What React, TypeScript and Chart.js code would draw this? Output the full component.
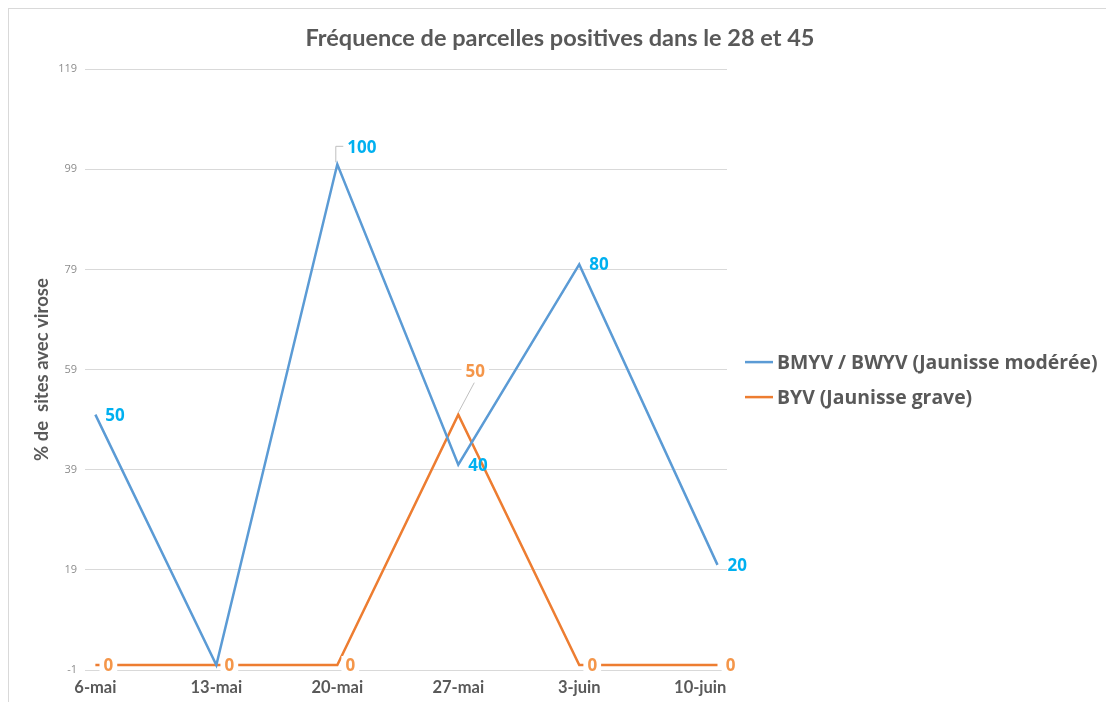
import React, { useEffect, useRef } from "react";
import { Chart, registerables } from "chart.js";

Chart.register(...registerables);

const titleText = "Fréquence de parcelles positives dans le 28 et 45";
const yTitle = "% de  sites avec virose";
const seriesNames = ["BMYV / BWYV (Jaunisse modérée)", "BYV (Jaunisse grave)"];
// sample days counted from 6-mai
const sampleDays = [0, 7, 14, 21, 28, 36];
const bmyvValues = [50, 0, 100, 40, 80, 20];
const byvValues = [0, 0, 0, 50, 0, 0];
const xTickDays = [0, 7, 14, 21, 28, 35];
const xTickLabels = ["6-mai", "13-mai", "20-mai", "27-mai", "3-juin", "10-juin"];
const yMin = -1;
const yMax = 119;
const yStep = 20;

const BLUE = "#5B9BD5";
const ORANGE = "#ED7D31";
const BLUE_LABEL = "#00B0F0";
const ORANGE_LABEL = "#F4964A";
const GRAY = "#595959";

const labelPlugin = {
  id: "pointLabels",
  afterDatasetsDraw(chart: any) {
    const ctx = chart.ctx;
    ctx.save();
    ctx.font = 'bold 17px "Open Sans"';
    ctx.textBaseline = "middle";
    chart.data.datasets.forEach((ds: any, di: number) => {
      const meta = chart.getDatasetMeta(di);
      const vals = ds.data.map((d: any) => d.y);
      const maxV = Math.max(...vals);
      meta.data.forEach((pt: any, i: number) => {
        const v = vals[i];
        const text = String(v);
        const x = pt.x;
        const y = pt.y;
        const w = ctx.measureText(text).width;
        if (di === 0) {
          ctx.fillStyle = BLUE_LABEL;
          ctx.textAlign = "left";
          if (v === maxV) {
            ctx.strokeStyle = "#BFBFBF";
            ctx.lineWidth = 1;
            ctx.beginPath();
            ctx.moveTo(x - 1.5, y - 2);
            ctx.lineTo(x - 1.5, y - 18);
            ctx.lineTo(x + 6, y - 18);
            ctx.stroke();
            ctx.fillText(text, x + 10, y - 16);
          } else {
            ctx.fillText(text, x + 10, y + 1);
          }
        } else {
          ctx.textAlign = "center";
          if (v > 0) {
            ctx.strokeStyle = "#BFBFBF";
            ctx.lineWidth = 1;
            ctx.beginPath();
            ctx.moveTo(x, y - 2);
            ctx.lineTo(x + 16, y - 32);
            ctx.stroke();
            ctx.fillStyle = "#ffffff";
            ctx.fillRect(x + 17 - w / 2 - 4, y - 53, w + 8, 20);
            ctx.fillStyle = ORANGE_LABEL;
            ctx.fillText(text, x + 17, y - 43);
          } else {
            const cx = x + 13;
            ctx.fillStyle = "#ffffff";
            ctx.fillRect(cx - w / 2 - 4, y - 9, w + 8, 20);
            ctx.fillStyle = ORANGE_LABEL;
            ctx.fillText(text, cx, y + 1);
          }
        }
      });
    });
    ctx.restore();
  },
};

const legendPlugin = {
  id: "sideLegend",
  afterDraw(chart: any) {
    const ctx = chart.ctx;
    const area = chart.chartArea;
    const x0 = area.right + 18;
    const midY = (area.top + area.bottom) / 2 + 10;
    const rowGap = 35;
    ctx.save();
    ctx.font = 'bold 19.4px "Open Sans"';
    ctx.textBaseline = "middle";
    ctx.textAlign = "left";
    chart.data.datasets.forEach((ds: any, i: number) => {
      const y = midY + (i - (chart.data.datasets.length - 1) / 2) * rowGap;
      ctx.strokeStyle = ds.borderColor;
      ctx.lineWidth = 2.5;
      ctx.beginPath();
      ctx.moveTo(x0, y);
      ctx.lineTo(x0 + 28, y);
      ctx.stroke();
      ctx.fillStyle = GRAY;
      ctx.fillText(ds.label, x0 + 32, y + 1);
    });
    ctx.restore();
  },
};

export default function App() {
  const canvasRef = useRef<HTMLCanvasElement | null>(null);

  useEffect(() => {
    if (!canvasRef.current) return;
    const chart = new Chart(canvasRef.current, {
      type: "line",
      data: {
        datasets: [
          {
            label: seriesNames[0],
            data: sampleDays.map((d, i) => ({ x: d, y: bmyvValues[i] })),
            borderColor: BLUE,
            backgroundColor: BLUE,
            borderWidth: 2.5,
            pointRadius: 0,
            tension: 0,
          },
          {
            label: seriesNames[1],
            data: sampleDays.map((d, i) => ({ x: d, y: byvValues[i] })),
            borderColor: ORANGE,
            backgroundColor: ORANGE,
            borderWidth: 2.5,
            pointRadius: 0,
            tension: 0,
          },
        ],
      },
      options: {
        animation: false,
        responsive: true,
        maintainAspectRatio: false,
        layout: { padding: { left: 5, right: 0, top: 0, bottom: 0 } },
        plugins: {
          title: {
            display: true,
            text: titleText,
            color: GRAY,
            font: { family: "Lato", size: 23.5, weight: "bold" },
            padding: { top: 15, bottom: 17 },
          },
          legend: { display: false },
          tooltip: { enabled: false },
        },
        scales: {
          x: {
            type: "linear",
            min: -0.6,
            max: 36.55,
            afterBuildTicks: (scale: any) => {
              scale.ticks = xTickDays.map((v) => ({ value: v }));
            },
            afterFit: (scale: any) => {
              scale.height = 32;
            },
            ticks: {
              autoSkip: false,
              maxRotation: 0,
              padding: 8,
              color: GRAY,
              font: { family: "Lato", size: 16.5, weight: "bold" },
              callback: (_v: any, idx: number) => xTickLabels[idx],
            },
            grid: { display: false, drawTicks: false },
            border: { display: false },
          },
          y: {
            min: yMin,
            max: yMax,
            ticks: {
              stepSize: yStep,
              padding: 8,
              color: "#8C8C8C",
              font: { family: "Open Sans", size: 11 },
            },
            afterFit: (scale: any) => {
              scale.width = 71;
            },
            title: {
              display: true,
              text: yTitle,
              color: GRAY,
              font: { family: "Lato", size: 18.5, weight: "bold" },
              padding: { top: 17, bottom: 0 },
            },
            grid: { color: "#D9D9D9", drawTicks: false, lineWidth: 1 },
            border: { display: false },
          },
          legendSpace: {
            type: "linear",
            position: "right",
            display: true,
            ticks: { display: false },
            grid: { display: false, drawTicks: false },
            border: { display: false },
            afterFit: (scale: any) => {
              scale.width = 379;
            },
          },
        },
      },
      plugins: [labelPlugin, legendPlugin],
    });
    return () => chart.destroy();
  }, []);

  return (
    <div
      style={{
        position: "fixed",
        left: 8,
        top: 8,
        width: 1097,
        height: 693,
        borderTop: "1px solid #D9D9D9",
        borderLeft: "1px solid #D9D9D9",
        background: "#fff",
      }}
    >
      <canvas ref={canvasRef} />
    </div>
  );
}
